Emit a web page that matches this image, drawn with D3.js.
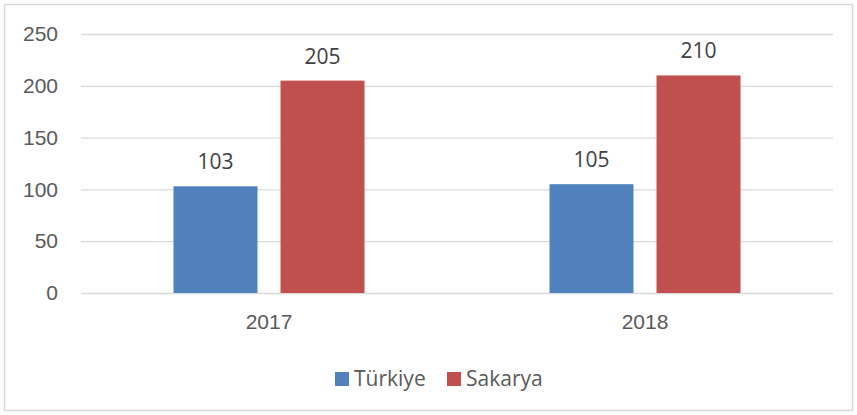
<!DOCTYPE html>
<html>
<head>
<meta charset="utf-8">
<script src="https://cdnjs.cloudflare.com/ajax/libs/d3/7.8.5/d3.min.js"></script>
<style>
  body { margin: 0; background: #fff; }
  svg { font-family: "Open Sans", "Liberation Sans", sans-serif; }
</style>
</head>
<body>
<svg id="chart" width="857" height="415"></svg>
<script>
// chart data
var years = ["2017", "2018"];
var seriesNames = ["Türkiye", "Sakarya"];
var turkiyeValues = [103, 105];
var sakaryaValues = [205, 210];
var yTicks = [0, 50, 100, 150, 200, 250];
var colors = ["#4F81BD", "#C0504D"];

var svg = d3.select("#chart");
var margin = {top: 34, right: 24, bottom: 122, left: 81};
var width = 857 - margin.left - margin.right;
var height = 415 - margin.top - margin.bottom;

// outer frame
svg.append("rect")
  .attr("x", 4.5).attr("y", 4.5)
  .attr("width", 848).attr("height", 406)
  .attr("fill", "#fff")
  .attr("stroke", "#d9d9d9")
  .attr("stroke-width", 1.5);

var g = svg.append("g").attr("transform", "translate(" + margin.left + "," + margin.top + ")");

var x0 = d3.scaleBand().domain(years).range([0, width]).paddingInner(0.492).paddingOuter(0.246);
var x1 = d3.scaleBand().domain(seriesNames).range([0, x0.bandwidth()]).paddingInner(0.215);
var y = d3.scaleLinear().domain([0, 250]).range([height, 0]);

// gridlines + y labels
var yAxis = g.append("g")
  .call(d3.axisLeft(y).tickValues(yTicks).tickSize(-width).tickPadding(23));
yAxis.select(".domain").remove();
yAxis.selectAll(".tick line").attr("stroke", "#d9d9d9").attr("stroke-width", 1.3);
yAxis.selectAll(".tick text")
  .attr("fill", "#595959")
  .style("font-size", "21px");

// x labels
var xAxis = g.append("g")
  .attr("transform", "translate(0," + height + ")")
  .call(d3.axisBottom(x0).tickSize(0).tickPadding(21));
xAxis.select(".domain").remove();
xAxis.selectAll(".tick text").attr("fill", "#595959").style("font-size", "21px");

var rows = years.map(function(yr, i) {
  return {year: yr, values: [turkiyeValues[i], sakaryaValues[i]]};
});

var group = g.selectAll(".grp")
  .data(rows)
  .enter().append("g")
  .attr("class", "grp")
  .attr("transform", function(d) { return "translate(" + x0(d.year) + ",0)"; });

var bar = group.selectAll(".bar")
  .data(function(d) {
    return d.values.map(function(v, j) { return {name: seriesNames[j], value: v, color: colors[j]}; });
  })
  .enter().append("g")
  .attr("class", "bar");

bar.append("rect")
  .attr("x", function(d) { return x1(d.name); })
  .attr("y", function(d) { return y(d.value); })
  .attr("width", x1.bandwidth())
  .attr("height", function(d) { return height - y(d.value); })
  .attr("fill", function(d) { return d.color; });

bar.append("text")
  .attr("x", function(d) { return x1(d.name) + x1.bandwidth() / 2; })
  .attr("y", function(d) { return y(d.value) - 17; })
  .attr("text-anchor", "middle")
  .attr("fill", "#404040")
  .style("font-size", "21px")
  .text(function(d) { return d.value; });

// legend
var legend = svg.append("g").attr("transform", "translate(335,372)");
var legX = [0, 112];
seriesNames.forEach(function(name, i) {
  var item = legend.append("g").attr("transform", "translate(" + legX[i] + ",0)");
  item.append("rect").attr("width", 14).attr("height", 14).attr("fill", colors[i]);
  item.append("text")
    .attr("x", 19).attr("y", 14)
    .attr("fill", "#595959")
    .style("font-size", "21px")
    .text(name);
});
</script>
</body>
</html>
